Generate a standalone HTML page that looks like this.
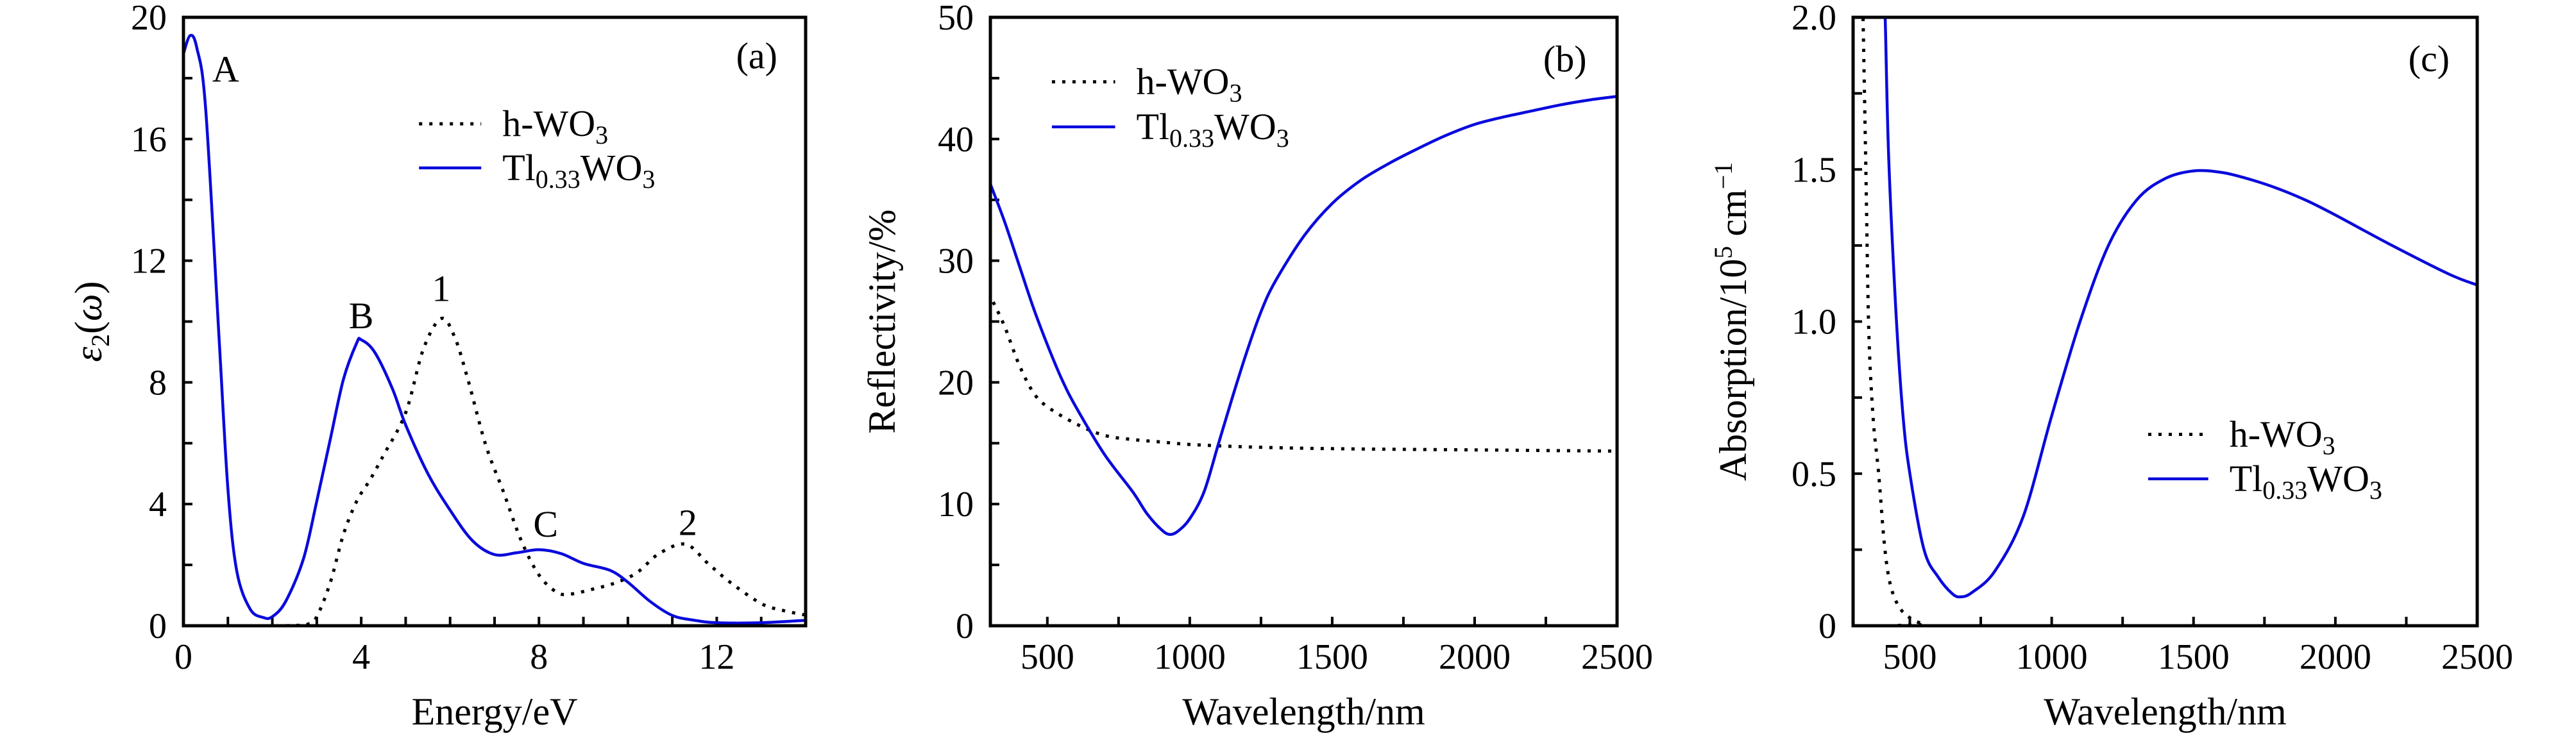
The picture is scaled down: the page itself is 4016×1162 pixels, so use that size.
<!DOCTYPE html>
<html><head><meta charset="utf-8"><style>
html,body{margin:0;padding:0;background:#fff;}
svg, svg text{font-family:"Liberation Serif","DejaVu Serif",serif;}
</style></head><body>
<svg id="fig" width="4016" height="1157" viewBox="0 0 4016 1157" xmlns="http://www.w3.org/2000/svg" font-family="Liberation Serif, DejaVu Serif, serif"></svg>
<script>
// Panel (a) data
const aTlX=[0,0.15,0.3,0.5,0.8,1.0,1.2,1.5,1.8,2.0,2.3,2.7,3.0,3.3,3.6,3.9,4.0,4.3,4.7,5.0,5.5,6.0,6.5,7.0,7.5,8.0,8.5,9.0,9.6,10.0,10.5,11.0,11.5,12,13,14];
const aTlY=[18.8,19.4,19.0,17.0,9.5,4.5,1.8,0.55,0.27,0.3,0.8,2.2,4.1,6.1,8.1,9.3,9.4,9.0,7.8,6.6,5.0,3.8,2.8,2.34,2.4,2.5,2.37,2.05,1.82,1.43,0.8,0.34,0.18,0.1,0.1,0.18];
const aWX=[0,1,2,2.5,2.8,3.0,3.3,3.6,3.9,4.2,4.5,5.0,5.4,5.8,6.1,6.4,6.8,7.2,7.6,8.0,8.4,8.7,9.2,9.7,10.2,10.7,11.3,11.8,12.3,13,13.5,14];
const aWY=[0,0,0,0.01,0.05,0.3,1.4,3.0,4.1,4.8,5.6,7.0,9.1,10.1,9.5,8.1,5.95,4.4,2.8,1.67,1.1,1.04,1.2,1.4,1.74,2.37,2.68,2.05,1.43,0.73,0.5,0.35];
// Panel (b) data
const bTlX=[300,350,400,450,500,550,600,700,800,850,900,930,960,1000,1050,1100,1150,1200,1250,1300,1400,1500,1600,1700,1800,1900,2000,2100,2200,2300,2400,2500];
const bTlY=[36.3,33.2,29.7,26.2,23.1,20.3,18.0,14.1,11.0,9.2,7.9,7.5,7.8,8.8,11.0,14.9,18.8,22.5,25.8,28.3,32.0,34.7,36.6,38.0,39.2,40.3,41.2,41.8,42.3,42.8,43.2,43.5];
const bWX=[310,350,400,450,500,600,700,800,900,1000,1200,1500,2000,2500];
const bWY=[26.6,24.6,21.5,19.2,18.0,16.6,15.65,15.3,15.1,14.9,14.7,14.55,14.45,14.35];
// Panel (c) data
const cTlX=[405,413,425,450,475,500,550,600,650,680,720,800,900,1000,1100,1200,1300,1400,1500,1600,1700,1800,1900,2000,2200,2400,2500];
const cTlY=[2.2,2.0,1.55,1.05,0.70,0.5,0.25,0.16,0.105,0.095,0.11,0.18,0.36,0.69,1.0,1.25,1.40,1.47,1.495,1.49,1.467,1.436,1.397,1.35,1.25,1.156,1.12];
const cWX=[330,335,345,355,370,390,410,430,460,500,550,600,2500];
const cWY=[2.2,2.0,1.5,0.98,0.69,0.5,0.27,0.14,0.065,0.026,0.005,0,0];
// tick labels
const aXTicks=[0,4,8,12], aYTicks=[0,4,8,12,16,20];
const bXTicks=[500,1000,1500,2000,2500], bYTicks=[0,10,20,30,40,50];
const cXTicks=[500,1000,1500,2000,2500], cYTicks=[0,0.5,1.0,1.5,2.0];
const cYLabels=["0","0.5","1.0","1.5","2.0"];

const NS="http://www.w3.org/2000/svg";
const FF='Liberation Serif, DejaVu Serif, serif';
const svg=document.getElementById('fig');
function mk(tag,attrs,parent){const e=document.createElementNS(NS,tag);for(const k in attrs)e.setAttribute(k,attrs[k]);if(tag==='text')e.setAttribute('font-family',FF);(parent||svg).appendChild(e);return e;}

function smoothPath(P){
  let d='M'+P[0][0].toFixed(1)+' '+P[0][1].toFixed(1);
  for(let i=0;i<P.length-1;i++){
    const p0=P[i-1]||P[i],p1=P[i],p2=P[i+1],p3=P[i+2]||P[i+1];
    const c1=[p1[0]+(p2[0]-p0[0])/6,p1[1]+(p2[1]-p0[1])/6];
    const c2=[p2[0]-(p3[0]-p1[0])/6,p2[1]-(p3[1]-p1[1])/6];
    d+=' C'+c1[0].toFixed(1)+' '+c1[1].toFixed(1)+' '+c2[0].toFixed(1)+' '+c2[1].toFixed(1)+' '+p2[0].toFixed(1)+' '+p2[1].toFixed(1);
  }
  return d;
}

function panel(cfg){
  const g=mk('g',{});
  
  
  const L=cfg.L,R=cfg.R,T=27,B=976;
  const sx=v=>L+(v-cfg.x0)/(cfg.x1-cfg.x0)*(R-L);
  const sy=v=>B-(v-cfg.y0)/(cfg.y1-cfg.y0)*(B-T);
  const cid='clip-'+cfg.name;
  const cp=mk('clipPath',{id:cid},g);mk('rect',{x:L,y:T,width:R-L,height:B-T},cp);
  for(let v=cfg.xMin0;v<=cfg.x1+1e-9;v+=cfg.xMinor){
    const t=mk('line',{x1:sx(v),x2:sx(v),y1:B,y2:B-14,stroke:'#000','stroke-width':4},g);
    
  }
  for(let v=cfg.y0;v<=cfg.y1+1e-9;v+=cfg.yMinor){
    const t=mk('line',{x1:L,x2:L+14,y1:sy(v),y2:sy(v),stroke:'#000','stroke-width':4},g);
    
  }
  cfg.xt.forEach((v,i)=>{const t=mk('text',{x:sx(v),y:1043,'font-size':56,'text-anchor':'middle'},g);t.textContent=String(v);
    });
  cfg.yt.forEach((v,i)=>{const t=mk('text',{x:L-26,y:sy(v)+19,'font-size':56,'text-anchor':'end'},g);t.textContent=cfg.yl?cfg.yl[i]:String(v);
    });
  function series(X,Y,col,dash,nm){
    const P=X.map((x,i)=>[sx(x),sy(Y[i])]);
    const p=mk('path',{d:smoothPath(P),fill:'none',stroke:col,'stroke-width':dash?5:4.5,'stroke-dasharray':dash?'5 11':'none','stroke-linejoin':'round','clip-path':'url(#'+cid+')'},g);
    
  }
  series(cfg.wX,cfg.wY,'#000',true,'h-wo3-line');
  series(cfg.tX,cfg.tY,'#0a0adc',false,'tl-wo3-line');
  const fr=mk('rect',{x:L,y:T,width:R-L,height:B-T,fill:'none',stroke:'#000','stroke-width':5},g);
  
  const lg=mk('g',{},g);
  const lx1=sx(cfg.leg[0]),lx2=sx(cfg.leg[1]),ly1=sy(cfg.leg[2]),ly2=sy(cfg.leg[3]);
  mk('line',{x1:lx1,x2:lx2,y1:ly1,y2:ly1,stroke:'#000','stroke-width':5,'stroke-dasharray':'5 11'},lg);
  mk('line',{x1:lx1,x2:lx2,y1:ly2,y2:ly2,stroke:'#0a0adc','stroke-width':4.5},lg);
  const t1=mk('text',{x:lx2+33,y:ly1+19,'font-size':58},lg);
  t1.innerHTML='h-WO<tspan font-size="40" dy="12">3</tspan>';
  
  const t2=mk('text',{x:lx2+33,y:ly2+19,'font-size':58},lg);
  t2.innerHTML='Tl<tspan font-size="40" dy="12">0.33</tspan><tspan dy="-12">WO</tspan><tspan font-size="40" dy="12">3</tspan>';
  
  const pl=mk('text',{x:sx(cfg.pl[0]),y:sy(cfg.pl[1])+20,'font-size':58,'text-anchor':'middle'},g);
  pl.textContent=cfg.plt;
  (cfg.ann||[]).forEach(a=>{const t=mk('text',{x:sx(a[1]),y:sy(a[2])+20,'font-size':58,'text-anchor':'middle'},g);t.textContent=a[0];
    });
  const xt=mk('text',{x:(L+R)/2,y:1130,'font-size':60,'text-anchor':'middle'},g);
  xt.textContent=cfg.xtitle;
  const yt=mk('text',{x:0,y:0,'font-size':60,'text-anchor':'middle',transform:'translate('+cfg.ytx+','+((T+B)/2)+') rotate(-90)'},g);
  yt.innerHTML=cfg.ytitle;
}
panel({name:'panel-a',L:286,R:1256,x0:0,x1:14,y0:0,y1:20,xMin0:0,xMinor:1,yMinor:2,xt:aXTicks,yt:aYTicks,
  tX:aTlX,tY:aTlY,wX:aWX,wY:aWY,leg:[5.3,6.7,16.5,15.05],pl:[12.9,18.75],plt:'(a)',
  ann:[['A',0.95,18.3],['B',4.0,10.2],['1',5.8,11.1],['C',8.15,3.35],['2',11.35,3.4]],
  xtitle:'Energy/eV',ytx:158,ytitle:'<tspan font-style="italic">ε</tspan><tspan font-size="40" dy="12">2</tspan><tspan dy="-12">(</tspan><tspan font-style="italic">ω</tspan>)'});
panel({name:'panel-b',L:1544,R:2521,x0:300,x1:2500,y0:0,y1:50,xMin0:500,xMinor:250,yMinor:5,xt:bXTicks,yt:bYTicks,
  tX:bTlX,tY:bTlY,wX:bWX,wY:bWY,leg:[516,738,44.7,41.0],pl:[2317,46.6],plt:'(b)',
  xtitle:'Wavelength/nm',ytx:1395,ytitle:'Reflectivity/%'});
panel({name:'panel-c',L:2889,R:3862,x0:300,x1:2500,y0:0,y1:2,xMin0:500,xMinor:250,yMinor:0.25,xt:cXTicks,yt:cYTicks,yl:cYLabels,
  tX:cTlX,tY:cTlY,wX:cWX,wY:cWY,leg:[1340,1552,0.629,0.483],pl:[2330,1.865],plt:'(c)',
  xtitle:'Wavelength/nm',ytx:2722,ytitle:'Absorption/10<tspan font-size="40" dy="-22">5</tspan><tspan dy="22"> cm</tspan><tspan font-size="40" dy="-22">−1</tspan>'});
</script>
</body></html>
